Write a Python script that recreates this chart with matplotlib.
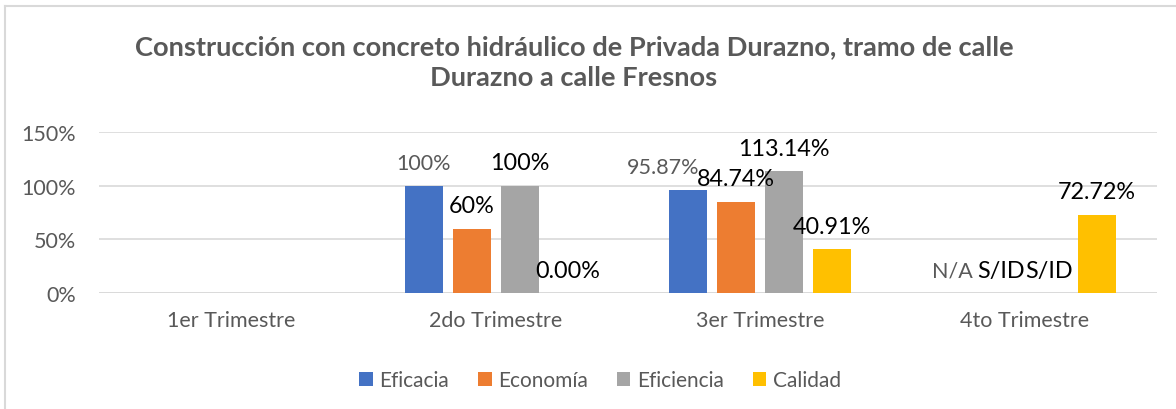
import numpy as np
import matplotlib
matplotlib.use("Agg")
import matplotlib.pyplot as plt
from matplotlib.patches import Patch
from matplotlib.lines import Line2D

plt.rcParams['font.family'] = ['Lato', 'DejaVu Sans']

trimestres = ["1er Trimestre", "2do Trimestre", "3er Trimestre", "4to Trimestre"]
series = ["Eficacia", "Economía", "Eficiencia", "Calidad"]
eficacia = [np.nan, 100, 95.87, 0]
economia = [np.nan, 60, 84.74, 0]
eficiencia = [np.nan, 100, 113.14, 0]
calidad = [np.nan, 0, 40.91, 72.72]
etq_eficacia = ["", "100%", "95.87%", "N/A"]
etq_economia = ["", "60%", "84.74%", "S/ID"]
etq_eficiencia = ["", "100%", "113.14%", "S/ID"]
etq_calidad = ["", "0.00%", "40.91%", "72.72%"]
yticks = [0, 50, 100, 150]

colores = ["#4472C4", "#ED7D31", "#A5A5A5", "#FFC000"]
gris = "#595959"

fig = plt.figure(figsize=(11.76, 4.10), dpi=100)
ax = fig.add_axes([99/1176, 1-294.3/410, 1058/1176, 161.6/410])

valores = [eficacia, economia, eficiencia, calidad]
etiquetas = [etq_eficacia, etq_economia, etq_eficiencia, etq_calidad]
x = np.arange(len(trimestres))
paso = 48/264
ancho = 38/264

for i, (vals, etqs) in enumerate(zip(valores, etiquetas)):
    pos = x + (i - 1.5) * paso
    ax.bar(pos, vals, ancho, color=colores[i], zorder=2)
    for j, (p, v, t) in enumerate(zip(pos, vals, etqs)):
        if not t:
            continue
        if i == 0:
            dx = -18 if t == "95.87%" else 0
            ax.annotate(t, (p, v), xytext=(dx, 12), textcoords="offset points",
                        ha="center", va="baseline", fontsize=15.5, color=gris)
        else:
            ax.annotate(t, (p, v), xytext=(0, 12), textcoords="offset points",
                        ha="center", va="baseline", fontsize=16.8, color="black")

ax.set_xlim(-0.5, 3.5)
ax.set_ylim(0, 150)
ax.set_yticks(yticks)
ax.set_yticklabels([f"{t}%" for t in yticks])
ax.set_xticks(x)
ax.set_xticklabels(trimestres)
ax.tick_params(length=0, labelsize=15.5, colors=gris)
ax.tick_params(axis="y", pad=16.5)
ax.tick_params(axis="x", pad=12)
ax.grid(axis="y", color="#D9D9D9", linewidth=1.2, zorder=0)
for s in ax.spines.values():
    s.set_visible(False)
ax.axhline(0, color="#D9D9D9", linewidth=1.2, zorder=1)

fig.text(574/1176, 1-63/410,
         "Construcción con concreto hidráulico de Privada Durazno, tramo de calle\nDurazno a calle Fresnos",
         ha="center", va="center", fontsize=19.6, fontweight="bold", color=gris, linespacing=1.35)

handles = [Patch(facecolor=c, edgecolor="none") for c in colores]
fig.legend(handles, series, loc="center", bbox_to_anchor=(600/1176, 1-381/410), ncol=4,
           frameon=False, fontsize=15, labelcolor=gris, handlelength=0.65, handleheight=0.65,
           handletextpad=0.3, columnspacing=1.4)

# borde del area del grafico
fig.add_artist(Line2D([5/1176, 5/1176], [0, 1-7/410], color="#D9D9D9", linewidth=1.5))
fig.add_artist(Line2D([5/1176, 1], [1-7/410, 1-7/410], color="#D9D9D9", linewidth=1.5))

fig.savefig("out.png", dpi=100)
